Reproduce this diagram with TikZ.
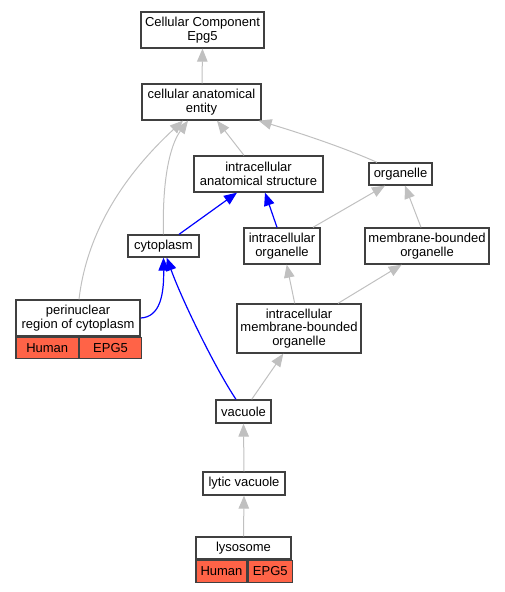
\documentclass[tikz,border=0pt]{standalone}
\usepackage{fontspec}
\setmainfont{Liberation Sans}
\usetikzlibrary{arrows.meta}
\definecolor{edgegray}{HTML}{C0C0C0}
\definecolor{boxline}{HTML}{404040}
\definecolor{tomatofill}{HTML}{FF6347}
\tikzset{
  box/.style={draw=boxline, line width=1.3pt, fill=white, inner sep=0pt, align=center},
  cellbox/.style={box, fill=tomatofill, anchor=north west},
  gedge/.style={draw=edgegray, line width=1pt, -{Triangle[length=13pt,width=10.5pt]}},
  bedge/.style={draw=blue, line width=1.2pt, -{Triangle[length=13pt,width=10.5pt]}},
}
\begin{document}
\begin{tikzpicture}[x=1pt, y=-1pt, font=\fontsize{13}{13.5}\selectfont]
\useasboundingbox (0,0) rectangle (504,592);
% nodes
\node[box, minimum width=123pt, minimum height=36pt] (cc) at (202.5,30) {Cellular Component\\Epg5};
\node[box, minimum width=119pt, minimum height=36pt] (cae) at (201.5,102) {cellular anatomical\\entity};
\node[box, minimum width=129pt, minimum height=36pt] (ias) at (258.5,174) {intracellular\\anatomical structure};
\node[box, minimum width=63pt, minimum height=22pt] (org) at (400.5,174) {organelle};
\node[box, minimum width=71pt, minimum height=22pt] (cyto) at (163.5,246) {cytoplasm};
\node[box, minimum width=76pt, minimum height=36pt] (io) at (282,246) {intracellular\\organelle};
\node[box, minimum width=124pt, minimum height=36pt] (mbo) at (427,246) {membrane-bounded\\organelle};
\node[box, minimum width=124pt, minimum height=36pt] (peri) at (78,318) {perinuclear\\region of cytoplasm};
\node[cellbox, minimum width=62.5pt, minimum height=21pt] (perih) at (peri.south west) {Human};
\node[cellbox, minimum width=61.5pt, minimum height=21pt] (perie) at (perih.north east) {EPG5};
\node[box, minimum width=124pt, minimum height=49pt] (imbo) at (299,328.5) {intracellular\\membrane-bounded\\organelle};
\node[box, minimum width=55pt, minimum height=23pt] (vac) at (243.5,411.5) {vacuole};
\node[box, minimum width=82pt, minimum height=23pt] (lytic) at (244,483.5) {lytic vacuole};
\node[box, minimum width=95pt, minimum height=22pt] (lyso) at (243.5,548) {lysosome};
\node[cellbox, minimum width=51pt, minimum height=22pt] (lysoh) at (lyso.south west) {Human};
\node[cellbox, minimum width=44pt, minimum height=22pt] (lysoe) at (lysoh.north east) {EPG5};
% gray edges
\draw[gedge] ([xshift=0.5pt]cae.north) -- (cc.south);
\draw[gedge] ([xshift=-14.5pt]ias.north) -- ([xshift=15.5pt]cae.south);
\draw[gedge] ([xshift=-23.5pt]org.north) .. controls (345,148) and (300,133) .. ([xshift=-3pt]cae.south east);
\draw[gedge] (cyto.north) .. controls (162,180) and (170,145) .. ([xshift=-13.5pt]cae.south);
\draw[gedge] ([xshift=1pt]peri.north) .. controls (88,222) and (135,165) .. ([xshift=-18.5pt]cae.south);
\draw[gedge] ([xshift=31pt]io.north) -- ([xshift=-15.5pt]org.south);
\draw[gedge] ([xshift=-6pt]mbo.north) -- ([xshift=4.5pt]org.south);
\draw[gedge] ([xshift=-4.3pt]imbo.north) -- ([xshift=4.7pt]io.south);
\draw[gedge] ([xshift=39pt]imbo.north) -- ([xshift=-25.3pt]mbo.south);
\draw[gedge] ([xshift=8.2pt]vac.north) -- ([xshift=-15.7pt]imbo.south);
\draw[gedge] (lytic.north) -- (vac.south);
\draw[gedge] (lyso.north) -- (lytic.south);
% blue edges
\draw[bedge] ([xshift=15.5pt]cyto.north) -- ([xshift=-21.5pt]ias.south);
\draw[bedge] ([xshift=-5pt]io.north) -- ([xshift=6.5pt]ias.south);
\draw[bedge] ([xshift=-7.5pt]vac.north) .. controls (215,368) and (182,300) .. ([xshift=3.2pt]cyto.south);
\draw[bedge] (peri.east) .. controls (160,317) and (164,295) .. (cyto.south);
\end{tikzpicture}
\end{document}
